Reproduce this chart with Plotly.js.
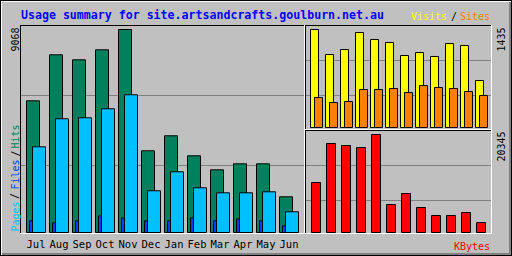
<!DOCTYPE html>
<html>
<head>
<meta charset="utf-8">
<script src="https://cdn.plot.ly/plotly-3.0.1.min.js"></script>
<style>html,body{margin:0;padding:0;background:#C0C0C0;}#chart{width:512px;height:256px;}</style>
</head>
<body>
<div id="chart"></div>
<script>
// ---- data ----
const months = ['Jul','Aug','Sep','Oct','Nov','Dec','Jan','Feb','Mar','Apr','May','Jun'];
const hits   = [5883, 7938, 7714, 8161, 9068, 3650, 4320, 3426, 2801, 3069, 3069, 1595];
const files  = [523, 433, 523, 746, 657, 523, 523, 657, 523, 612, 523, 299];
const pages  = [3828, 5079, 5124, 5526, 6151, 1863, 2711, 1997, 1773, 1773, 1818, 925];
const visits = [1435, 1069, 1142, 1391, 1289, 1245, 1054, 1098, 1040, 1230, 1201, 688];
const sites  = [439, 366, 381, 556, 556, 571, 513, 615, 586, 571, 527, 469];
const kbytes = [10380, 18477, 18061, 17646, 20345, 5813, 8097, 5190, 3529, 3529, 4152, 2076];
const titleText = 'Usage summary for site.artsandcrafts.goulburn.net.au';

// ---- layout helpers ----
const W = 512, H = 256;
const PX = p => p / W;
const PY = p => 1 - p / H;
const idx = months.map((_, i) => i);
const maxMain = Math.max(...hits);
const maxVS = Math.max(...visits);
const maxKB = Math.max(...kbytes);
const mono = 'DejaVu Sans Mono';

const C = {bg:'#C0C0C0', hits:'#00805C', files:'#0040FF', pages:'#00C0FF',
           visits:'#FFFF00', sites:'#FF8000', kbytes:'#FF0000', grid:'#808080'};

function bar(y, color, xa, ya, off, wid, name) {
  return {type:'bar', x: idx, y: y, xaxis: xa, yaxis: ya, name: name,
    offset: off, width: wid, marker:{color: color, line:{color:'#000000', width:1}},
    hoverinfo:'skip'};
}
// main panel: pixel = 26.5 + 23*x ; bottom 232.5, 203 px per max
const mainX = p => (p - 26.5) / 23;
const mainV = p => (232.5 - p) / 203 * maxMain;
// right panels: pixel = 310.5 + 15*x
const rX = p => (p - 310.5) / 15;
const vsV = p => (127.5 - p) / 98 * maxVS;
const kbV = p => (232.5 - p) / 98 * maxKB;

const traces = [
  bar(hits,  C.hits,  'x',  'y',  0,      13/23, 'Hits'),
  bar(files, C.files, 'x',  'y',  3/23,   13/23, 'Files'),
  bar(pages, C.pages, 'x',  'y',  6/23,   13/23, 'Pages'),
  bar(visits,C.visits,'x2', 'y2', 0,      8/15,  'Visits'),
  bar(sites, C.sites, 'x2', 'y2', 4/15,   8/15,  'Sites'),
  bar(kbytes,C.kbytes,'x3', 'y3', 1/15,   9/15,  'KBytes')
];

const noAxis = {showgrid:false, zeroline:false, showticklabels:false, ticks:'', showline:false, fixedrange:true};

function line(x0,y0,x1,y1,color,w){
  return {type:'line', xref:'paper', yref:'paper', x0:PX(x0), y0:PY(y0), x1:PX(x1), y1:PY(y1),
          line:{color:color, width:w||1}, layer:'above'};
}
function frame(l,t,r,b){ // black top/left, white bottom/right (pixel rows/cols)
  return [
    line(l, t+0.5, r+1, t+0.5, '#000000'),
    line(l+0.5, t, l+0.5, b+1, '#000000'),
    line(r+0.5, t, r+0.5, b+1, '#FFFFFF'),
    line(l, b+0.5, r+1, b+0.5, '#FFFFFF')
  ];
}
const shapes = [].concat(
  frame(20, 25, 304, 233),
  frame(305, 25, 491, 129),
  frame(305, 130, 491, 233),
  [
    line(0, 0.5, 512, 0.5, '#000000'),
    line(0.5, 0, 0.5, 256, '#000000'),
    line(511.5, 0, 511.5, 256, '#000000'),
    line(0, 255.5, 512, 255.5, '#000000'),
    line(1, 1.5, 511, 1.5, '#FFFFFF'),
    line(1.5, 1, 1.5, 255, '#FFFFFF'),
    line(2, 254, 511, 254, '#808080', 2),
    line(510, 2, 510, 255, '#808080', 2)
  ]
);

function ann(text, x, y, color, opts) {
  return Object.assign({text: text, xref:'paper', yref:'paper', x: PX(x), y: PY(y),
    showarrow:false, xanchor:'center', yanchor:'middle', borderpad:0,
    font:{family: mono, size:10, color: color}}, opts || {});
}
const annotations = [
  ann(titleText, 20, 15, '#0000FF', {xanchor:'left', font:{family:mono, size:11.6, color:'#0000FF', weight:'bold'}}),
  ann('Visits', 447.5, 16, C.visits, {xanchor:'right'}),
  ann('/', 453.5, 16, '#000000'),
  ann('Sites', 490.5, 16, C.sites, {xanchor:'right'}),
  ann('KBytes', 490.5, 246, C.kbytes, {xanchor:'right'}),
  ann(String(maxMain), 15, 39.5, '#000000', {textangle:-90}),
  ann(String(maxVS), 500.5, 40, '#000000', {textangle:-90}),
  ann(String(maxKB), 500.5, 147, '#000000', {textangle:-90}),
  ann('Pages', 14.5, 217, C.pages, {textangle:-90}),
  ann('/', 14.5, 196.5, '#000000', {textangle:-90}),
  ann('Files', 14.5, 175, C.files, {textangle:-90}),
  ann('/', 14.5, 154, '#000000', {textangle:-90}),
  ann('Hits', 14.5, 137, C.hits, {textangle:-90})
];

const layout = {
  width: W, height: H, margin:{l:0, r:0, t:0, b:0, pad:0},
  paper_bgcolor: C.bg, plot_bgcolor: C.bg, showlegend:false, barmode:'overlay',
  xaxis: Object.assign({}, noAxis, {domain:[PX(21), PX(304)], range:[mainX(21), mainX(304)],
    showticklabels:true, tickvals: idx.map(i => i + 9.5/23), ticktext: months,
    ticklabelstandoff: 3,
    tickfont:{family:mono, size:10.5, color:'#000000'}, anchor:'y'}),
  yaxis: Object.assign({}, noAxis, {domain:[PY(233), PY(26)], range:[mainV(233), mainV(26)],
    showgrid:true, gridcolor:C.grid, gridwidth:1, tickvals:[mainV(165.5), mainV(95.5)], anchor:'x'}),
  xaxis2: Object.assign({}, noAxis, {domain:[PX(306), PX(491)], range:[rX(306), rX(491)], anchor:'y2'}),
  yaxis2: Object.assign({}, noAxis, {domain:[PY(129), PY(26)], range:[vsV(129), vsV(26)],
    showgrid:true, gridcolor:C.grid, gridwidth:1, tickvals:[vsV(95.5), vsV(60.5)], anchor:'x2'}),
  xaxis3: Object.assign({}, noAxis, {domain:[PX(306), PX(491)], range:[rX(306), rX(491)], anchor:'y3'}),
  yaxis3: Object.assign({}, noAxis, {domain:[PY(233), PY(131)], range:[kbV(233), kbV(131)],
    showgrid:true, gridcolor:C.grid, gridwidth:1, tickvals:[kbV(200.5), kbV(165.5)], anchor:'x3'}),
  shapes: shapes, annotations: annotations
};

Plotly.newPlot('chart', traces, layout, {staticPlot:true, displayModeBar:false});
</script>
</body>
</html>
